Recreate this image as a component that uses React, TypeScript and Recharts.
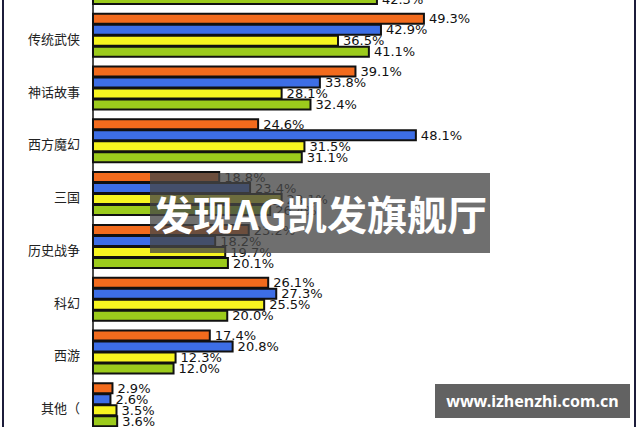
import React from 'react';
import { Bar, BarChart, LabelList, XAxis, YAxis } from 'recharts';

// genre names, top one is cut off in the picture
const genres = [
  '玄幻仙侠',
  '传统武侠',
  '神话故事',
  '西方魔幻',
  '三国',
  '历史战争',
  '科幻',
  '西游',
  '其他（'
];

// four series per genre (orange, blue, yellow, green)
const orangeValues = [null, 49.3, 39.1, 24.6, 18.8, 23.2, 26.1, 17.4, 2.9];
const blueValues = [null, 42.9, 33.8, 48.1, 23.4, 18.2, 27.3, 20.8, 2.6];
const yellowValues = [null, 36.5, 28.1, 31.5, 28.1, 19.7, 25.5, 12.3, 3.5];
const greenValues = [42.3, 41.1, 32.4, 31.1, 26.4, 20.1, 20.0, 12.0, 3.6];

const data = genres.map((name, i) => ({
  name,
  a: orangeValues[i],
  b: blueValues[i],
  c: yellowValues[i],
  d: greenValues[i]
}));

const fmt = (v: any) =>
  v === null || v === undefined ? '' : `${Number(v).toFixed(1)}%`;

const labelStyle = {
  fill: '#111',
  fontSize: 13,
  fontFamily: '"DejaVu Sans", sans-serif'
};

const series = [
  { key: 'a', color: '#f26b1d' },
  { key: 'b', color: '#3d6ee6' },
  { key: 'c', color: '#f7f520' },
  { key: 'd', color: '#9ccb1c' }
];

const App: React.FC = () => {
  return (
    <div
      style={{
        position: 'fixed',
        top: 0,
        left: 0,
        width: 640,
        height: 427,
        overflow: 'hidden',
        background: '#fff'
      }}
    >
      <div style={{ position: 'absolute', top: -43, left: 0 }}>
        <BarChart
          width={640}
          height={475}
          data={data}
          layout="vertical"
          barCategoryGap={4}
          barGap={1}
          margin={{ top: 0, right: 10, bottom: 0, left: 0 }}
        >
          <XAxis type="number" domain={[0, 80]} hide />
          <YAxis
            type="category"
            dataKey="name"
            width={93}
            tickLine={false}
            tickSize={6}
            tickMargin={7}
            axisLine={{ stroke: '#111', strokeWidth: 1.5 }}
            tick={{
              fill: '#222',
              fontSize: 13,
              dy: 3,
              fontFamily: '"Noto Sans CJK SC", sans-serif'
            }}
          />
          {series.map(s => (
            <Bar
              key={s.key}
              dataKey={s.key}
              fill={s.color}
              stroke="#111"
              strokeWidth={2}
              isAnimationActive={false}
            >
              <LabelList
                dataKey={s.key}
                position="right"
                offset={5}
                formatter={fmt}
                style={labelStyle}
              />
            </Bar>
          ))}
        </BarChart>
      </div>

      {/* frame lines */}
      <div style={{ position: 'absolute', left: 2, top: 0, width: 2, height: 427, background: '#1c1c3a' }} />
      <div style={{ position: 'absolute', left: 634, top: 0, width: 2, height: 427, background: '#1c1c3a' }} />

      {/* overlay boxes seen on the picture */}
      <div
        style={{
          position: 'absolute',
          left: 150,
          top: 173,
          width: 340,
          height: 80,
          background: 'rgba(70,70,70,0.78)',
          color: '#fff',
          fontFamily: '"Noto Sans CJK SC", sans-serif',
          fontWeight: 700,
          fontSize: 40,
          lineHeight: '80px',
          textAlign: 'center',
          whiteSpace: 'nowrap'
        }}
      >
        发现AG凯发旗舰厅
      </div>
      <div
        style={{
          position: 'absolute',
          left: 435,
          top: 384,
          width: 195,
          height: 34,
          background: '#626262',
          color: '#fff',
          fontFamily: '"Noto Sans", sans-serif',
          fontWeight: 700,
          fontSize: 16,
          lineHeight: '34px',
          textAlign: 'center',
          whiteSpace: 'nowrap'
        }}
      >
        www.izhenzhi.com.cn
      </div>
    </div>
  );
};

export default App;
